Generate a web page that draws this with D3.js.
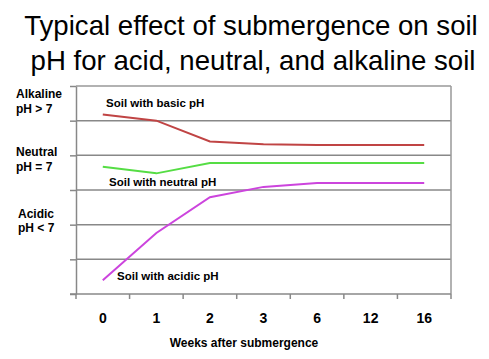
<!DOCTYPE html>
<html>
<head>
<meta charset="utf-8">
<script src="https://cdn.jsdelivr.net/npm/d3@7"></script>
<style>
body { margin: 0; background: #fff; }
svg { display: block; font-family: Arial, "Liberation Sans", sans-serif; }
.bold { font-weight: bold; }
</style>
</head>
<body>
<svg width="489" height="359"></svg>
<script>

// data (y in band units, 0 = bottom, 6 = top)
var weeks = ["0", "1", "2", "3", "6", "12", "16"];
var basicPH   = [5.18, 5.0, 4.4, 4.32, 4.3, 4.3, 4.3];
var neutralPH = [3.67, 3.48, 3.78, 3.78, 3.78, 3.78, 3.78];
var acidicPH  = [0.4, 1.76, 2.79, 3.09, 3.2, 3.2, 3.2];
var yLabels = [
  { lines: ["Alkaline", "pH > 7"], v: 5.65, dx: 16 },
  { lines: ["Neutral", "pH = 7"], v: 3.97, dx: 16 },
  { lines: ["Acidic", "pH < 7"], v: 2.2, dx: 18 }
];

var svg = d3.select("svg");
var pLeft = 76, pRight = 451, pTop = 86, pBottom = 294;

var x = d3.scaleBand().domain(weeks).range([pLeft, pRight]);
var y = d3.scaleLinear().domain([0, 6]).range([pBottom, pTop]);

// title
svg.append("text")
    .attr("x", 251).attr("y", 35)
    .attr("text-anchor", "middle")
    .style("font-size", "27.6px")
    .text("Typical effect of submergence on soil");
svg.append("text")
    .attr("x", 253).attr("y", 70)
    .attr("text-anchor", "middle")
    .style("font-size", "27.6px")
    .text("pH for acid, neutral, and alkaline soil");

// gridlines
svg.append("g").selectAll("line")
    .data([1, 2, 3, 4, 5])
  .enter().append("line")
    .attr("x1", pLeft).attr("x2", pRight)
    .attr("y1", function(d) { return y(d); })
    .attr("y2", function(d) { return y(d); })
    .attr("stroke", "#888").attr("stroke-width", 1.5);

// frame
svg.append("line").attr("x1", pLeft).attr("x2", pRight).attr("y1", pTop).attr("y2", pTop)
    .attr("stroke", "#999").attr("stroke-width", 1.5);
svg.append("line").attr("x1", pRight).attr("x2", pRight).attr("y1", pTop).attr("y2", pBottom)
    .attr("stroke", "#999").attr("stroke-width", 1.5);

// left axis
var yAxis = svg.append("g")
    .attr("transform", "translate(" + pLeft + ",0)")
    .call(d3.axisLeft(y).ticks(6).tickSize(6).tickSizeOuter(0).tickFormat(""));
yAxis.selectAll("line, path").attr("stroke", "#888").attr("stroke-width", 1.5);

// bottom axis: ticks at band edges
var edges = weeks.map(function(w) { return x(w); }).concat([pRight]);
var xg = svg.append("g");
xg.append("line").attr("x1", pLeft - 6).attr("x2", pRight).attr("y1", pBottom).attr("y2", pBottom)
    .attr("stroke", "#888").attr("stroke-width", 1.5);
xg.selectAll(".tk").data(edges).enter().append("line")
    .attr("x1", function(d) { return d; }).attr("x2", function(d) { return d; })
    .attr("y1", pBottom).attr("y2", pBottom + 5)
    .attr("stroke", "#888").attr("stroke-width", 1.5);
xg.selectAll(".lbl").data(weeks).enter().append("text")
    .attr("class", "bold")
    .attr("x", function(d) { return x(d) + x.bandwidth() / 2; })
    .attr("y", 323)
    .attr("text-anchor", "middle")
    .style("font-size", "14px")
    .text(function(d) { return d; });

svg.append("text").attr("class", "bold")
    .attr("x", 244).attr("y", 347)
    .attr("text-anchor", "middle")
    .style("font-size", "12px")
    .text("Weeks after submergence");

// y category labels
yLabels.forEach(function(l) {
  l.lines.forEach(function(s, i) {
    svg.append("text").attr("class", "bold")
      .attr("x", l.dx).attr("y", y(l.v) + i * 14.5)
      .style("font-size", "12px")
      .text(s);
  });
});

// series
var line = d3.line()
    .x(function(d, i) { return x(weeks[i]) + x.bandwidth() / 2; })
    .y(function(d) { return y(d); });

var series = [
  { values: basicPH, color: "#c04444", label: "Soil with basic pH", lx: 106, ly: 107 },
  { values: neutralPH, color: "#55dd44", label: "Soil with neutral pH", lx: 109, ly: 186 },
  { values: acidicPH, color: "#cc44dd", label: "Soil with acidic pH", lx: 117, ly: 280 }
];

series.forEach(function(s) {
  svg.append("path")
      .datum(s.values)
      .attr("fill", "none")
      .attr("stroke", s.color)
      .attr("stroke-width", 2)
      .attr("d", line);
  svg.append("text").attr("class", "bold")
      .attr("x", s.lx).attr("y", s.ly)
      .style("font-size", "11.5px")
      .text(s.label);
});

</script>
</body>
</html>
